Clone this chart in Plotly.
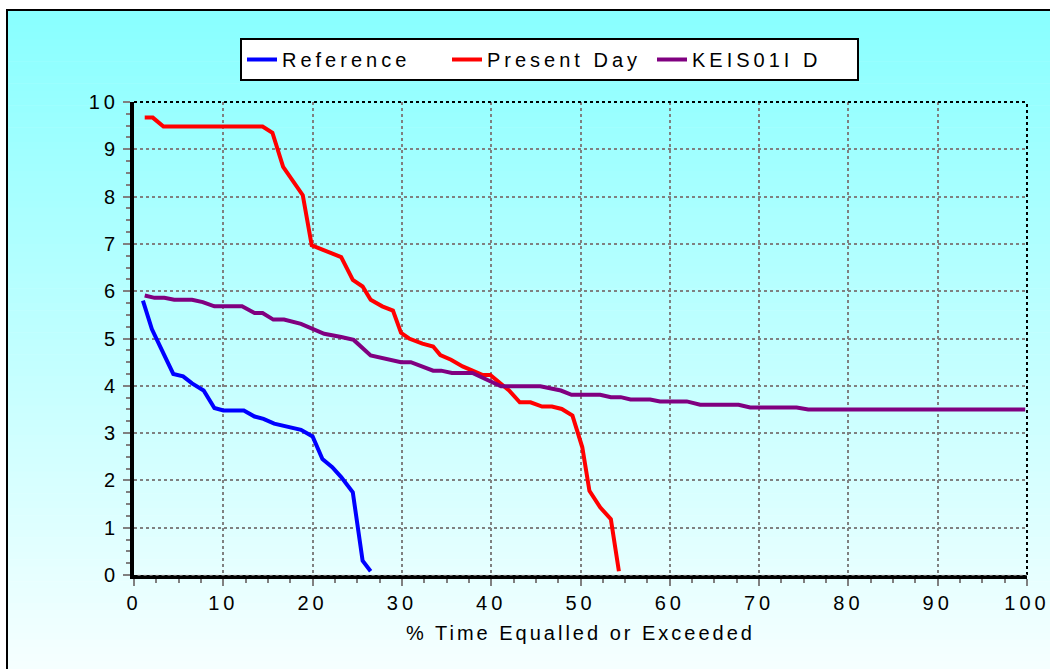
import plotly.graph_objects as go

# ---- data ----
ref_x = [1, 2, 3, 4.4, 5.5, 6.5, 7.8, 9, 10, 11, 12.3, 13.5, 14.5, 15.7, 17, 18.7, 20, 21.1, 22.2, 23.2, 24.5, 25.6, 26.5]
ref_y = [5.8, 5.2, 4.8, 4.25, 4.2, 4.05, 3.9, 3.53, 3.48, 3.48, 3.48, 3.35, 3.3, 3.2, 3.15, 3.07, 2.93, 2.45, 2.28, 2.07, 1.75, 0.3, 0.08]

pd_x = [1.2, 2.1, 3.3, 14.4, 15.5, 16.7, 18.9, 19.9, 21.1, 23.2, 24.5, 25.6, 26.5, 27.8, 29.0, 29.9, 30.8, 32.3, 33.5,
        34.3, 35.5, 36.8, 37.9, 39.0, 39.9, 41.1, 42.0, 43.2, 44.4, 45.7, 46.8, 47.9, 49.1, 50.2, 51.0, 52.2, 53.4, 54.3]
pd_y = [9.67, 9.67, 9.48, 9.48, 9.35, 8.63, 8.03, 6.97, 6.88, 6.72, 6.24, 6.1, 5.82, 5.68, 5.59, 5.12, 5.0, 4.89, 4.83,
        4.65, 4.55, 4.41, 4.32, 4.23, 4.23, 4.04, 3.9, 3.65, 3.65, 3.56, 3.56, 3.51, 3.37, 2.7, 1.78, 1.43, 1.18, 0.08]

ke_x = [1.2, 2.3, 3.4, 4.5, 6.5, 7.7, 9.0, 12.1, 13.5, 14.4, 15.6, 16.8, 18.7, 20.0, 21.3, 23.2, 24.6, 26.5, 28.4,
        29.9, 31.0, 33.5, 34.4, 35.6, 37.9, 39.0, 41.1, 45.5, 47.8, 49.0, 52.2, 53.4, 54.5, 55.6, 57.8, 58.9, 61.9,
        63.4, 67.7, 69.0, 74.2, 75.5, 99.8]
ke_y = [5.91, 5.86, 5.86, 5.82, 5.82, 5.77, 5.68, 5.68, 5.54, 5.54, 5.4, 5.4, 5.31, 5.2, 5.1, 5.03, 4.97, 4.64, 4.57,
        4.5, 4.5, 4.32, 4.32, 4.27, 4.27, 4.17, 3.99, 3.99, 3.9, 3.81, 3.81, 3.76, 3.76, 3.71, 3.71, 3.67, 3.67,
        3.6, 3.6, 3.54, 3.54, 3.5, 3.5]

series_names = ["Reference", "Present Day", "KEIS01I D"]
series_colors = ["#0000FF", "#FF0000", "#800080"]
x_ticks = [0, 10, 20, 30, 40, 50, 60, 70, 80, 90, 100]
y_ticks = [0, 1, 2, 3, 4, 5, 6, 7, 8, 9, 10]

# ---- layout geometry (pixels) ----
W, H = 1050, 669
L, R, T, B = 134, 1027, 102, 575
pw, ph = R - L, B - T


def px_x(p):
    return (p - L) / pw


def px_y(p):
    return (B - p) / ph


FONT = "Liberation Sans, Arial, sans-serif"

fig = go.Figure()
for xs, ys, nm, col in zip([ref_x, pd_x, ke_x], [ref_y, pd_y, ke_y], series_names, series_colors):
    fig.add_trace(go.Scatter(x=xs, y=ys, mode="lines", name=nm,
                             line=dict(color=col, width=4)))

shapes = []
# gradient background (cyan at top -> near white at bottom)
top_px, bot_px = 10, H
n = 90
c0 = (136, 255, 255)
c1 = (246, 255, 255)
for i in range(n):
    y0 = top_px + (bot_px - top_px) * i / n
    y1 = top_px + (bot_px - top_px) * (i + 1) / n + 0.6
    t = (i + 0.5) / n
    c = tuple(int(round(c0[k] + (c1[k] - c0[k]) * t)) for k in range(3))
    shapes.append(dict(type="rect", xref="paper", yref="paper", layer="below",
                       x0=px_x(7), x1=px_x(W + 5), y0=px_y(y1), y1=px_y(y0),
                       fillcolor="rgb(%d,%d,%d)" % c, line=dict(width=0)))
# outer border
shapes.append(dict(type="rect", xref="paper", yref="paper", layer="above",
                   x0=px_x(7), x1=px_x(W + 5), y0=px_y(H + 5), y1=px_y(10),
                   line=dict(color="black", width=2), fillcolor="rgba(0,0,0,0)"))
# dotted top and right frame
shapes.append(dict(type="line", xref="paper", yref="paper", x0=0, x1=1, y0=1, y1=1,
                   line=dict(color="black", width=2, dash="dot")))
shapes.append(dict(type="line", xref="paper", yref="paper", x0=1, x1=1, y0=0, y1=1,
                   line=dict(color="black", width=2, dash="dot")))
# light dots running along the thick bottom axis
shapes.append(dict(type="line", xref="paper", yref="paper", x0=0.004, x1=1, y0=0, y1=0,
                   line=dict(color="#d8d8d8", width=1.2, dash="dot")))

fig.update_layout(
    width=W, height=H,
    margin=dict(l=L, r=W - R, t=T, b=H - B, pad=0, autoexpand=False),
    paper_bgcolor="white",
    plot_bgcolor="rgba(0,0,0,0)",
    font=dict(family=FONT, size=20, color="black"),
    shapes=shapes,
    showlegend=True,
    legend=dict(orientation="h", x=px_x(240), y=px_y(38), xanchor="left", yanchor="top",
                bgcolor="white", bordercolor="black", borderwidth=2,
                font=dict(family=FONT, size=20, color="black"),
                entrywidth=160, entrywidthmode="pixels", tracegroupgap=0),
    xaxis=dict(range=[0, 100], tickvals=x_ticks, ticktext=[str(v) for v in x_ticks],
               automargin=False,
               showgrid=True, gridcolor="#808080", gridwidth=1.5, griddash="dot",
               showline=True, linecolor="black", linewidth=4, zeroline=False,
               ticks="outside", ticklen=7, tickwidth=2, tickcolor="#808080",
               minor=dict(dtick=2.5, tick0=0, ticks="outside", ticklen=4, tickwidth=2,
                          tickcolor="#808080", showgrid=False),
               title=dict(text="% Time Equalled or Exceeded", font=dict(size=20), standoff=14),
               tickfont=dict(size=20)),
    yaxis=dict(range=[0, 10], tickvals=y_ticks, ticktext=[str(v) for v in y_ticks],
               automargin=False,
               showgrid=True, gridcolor="#808080", gridwidth=1.5, griddash="dot",
               showline=True, linecolor="black", linewidth=4, zeroline=False,
               ticks="outside", ticklen=7, tickwidth=2, tickcolor="#808080",
               minor=dict(dtick=0.25, tick0=0, ticks="outside", ticklen=4, tickwidth=2,
                          tickcolor="#808080", showgrid=False),
               tickfont=dict(size=20)),
)

post = """
document.body.style.margin = '0';
document.documentElement.style.margin = '0';
var gd = document.getElementById('{plot_id}');
function spread() {
  gd.querySelectorAll('.xtick text, .ytick text, .legendtext').forEach(function (t) {
    t.style.letterSpacing = '4px';
  });
  gd.querySelectorAll('.xtitle').forEach(function (t) {
    t.style.letterSpacing = '3px';
  });
}
spread();
if (gd.on) { gd.on('plotly_afterplot', spread); }
"""

fig.write_html("out.html", post_script=post, config={"displayModeBar": False})
